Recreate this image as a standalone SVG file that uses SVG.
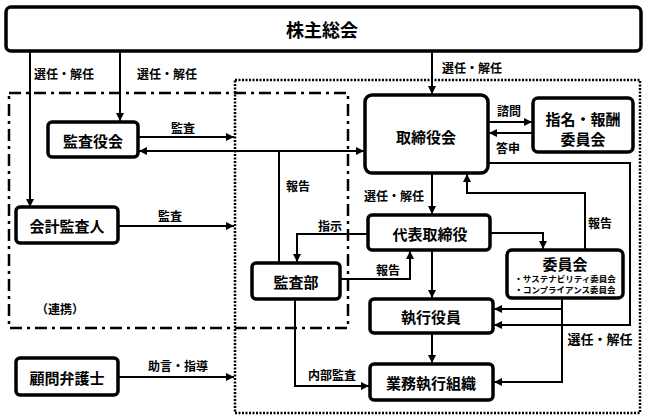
<svg xmlns="http://www.w3.org/2000/svg" width="648" height="420" viewBox="0 0 648 420">
<style>
.box{fill:#fff;stroke:#000;stroke-width:3.5}
.ln{fill:none;stroke:#000;stroke-width:2}
.arr{fill:none;stroke:#000;stroke-width:2;marker-end:url(#ah)}
.t{font-family:"Noto Sans CJK JP","Noto Sans CJK SC",sans-serif;font-weight:bold;text-anchor:middle;dominant-baseline:central;fill:#000}
.n{font-size:15px}
.l{font-size:12px}
.s{font-size:8.5px}
</style>
<defs>
<marker id="ah" viewBox="0 0 10 10" refX="10" refY="5" markerWidth="4" markerHeight="4" orient="auto" markerUnits="strokeWidth">
<path d="M0,0 L10,5 L0,10 z" fill="#000"/>
</marker>
</defs>
<rect width="648" height="420" fill="#fff"/>
<g id="frames">
<rect x="9" y="93" width="339" height="235" fill="none" stroke="#000" stroke-width="2.5" stroke-dasharray="12 5 3 5"/>
<rect x="235" y="80" width="405" height="333" fill="none" stroke="#000" stroke-width="2.5" stroke-dasharray="2 1.5"/>
</g>
<g id="connectors">
<path class="arr" d="M30,51 V207"/>
<path class="arr" d="M120,51 V121"/>
<path class="arr" d="M432,51 V94"/>
<path class="arr" d="M138,137 H234"/>
<path class="arr" d="M279,151 H139"/>
<path class="arr" d="M279,151 H364"/>
<path class="ln" d="M279,263 V151"/>
<path class="arr" d="M118,226 H234"/>
<path class="arr" d="M118,377 H234"/>
<path class="arr" d="M488,122 H532"/>
<path class="arr" d="M533,133 H489"/>
<path class="arr" d="M432,173 V214"/>
<path class="arr" d="M585,250 V193 H467 V174"/>
<path class="arr" d="M490,233 H543 V249"/>
<path class="arr" d="M368,234 H297 V262"/>
<path class="arr" d="M340,279 H410 V251"/>
<path class="arr" d="M432,250 V298"/>
<path class="arr" d="M432,333 V363"/>
<path class="arr" d="M295,299 V386 H369"/>
<path class="arr" d="M488,163 H630 V325 H494"/>
<path class="arr" d="M562,298 V382 H494"/>
<path class="arr" d="M562,309 H494"/>
</g>
<g id="labels">
<text class="t l" x="64" y="73">選任・解任</text>
<text class="t l" x="167" y="73">選任・解任</text>
<text class="t l" x="472" y="67">選任・解任</text>
<text class="t l" x="183" y="127">監査</text>
<text class="t l" x="170" y="215">監査</text>
<text class="t l" x="298" y="185">報告</text>
<text class="t l" x="330" y="225">指示</text>
<text class="t l" x="388" y="269">報告</text>
<text class="t l" x="332" y="374">内部監査</text>
<text class="t l" x="178" y="365">助言・指導</text>
<text class="t l" x="60" y="308">（連携）</text>
<text class="t l" x="509" y="110">諮問</text>
<text class="t l" x="508" y="147">答申</text>
<text class="t l" x="394" y="195">選任・解任</text>
<text class="t l" x="600" y="222">報告</text>
<text class="t" x="600" y="338" font-size="13">選任・解任</text>
</g>
<g id="n-sokai">
<rect class="box" x="6" y="7" width="635" height="44" rx="5"/>
<text class="t" x="322" y="29" font-size="18">株主総会</text>
</g>
<g id="n-kansayakukai">
<rect class="box" x="48" y="122" width="90" height="35" rx="4"/>
<text class="t n" x="93" y="140">監査役会</text>
</g>
<g id="n-kaikei">
<rect class="box" x="16" y="207" width="102" height="36" rx="4"/>
<text class="t n" x="67" y="225">会計監査人</text>
</g>
<g id="n-komon">
<rect class="box" x="16" y="358" width="102" height="37" rx="4"/>
<text class="t n" x="67" y="377">顧問弁護士</text>
</g>
<g id="n-torishimariyakukai">
<rect class="box" x="365" y="95" width="123" height="78" rx="7"/>
<text class="t n" x="426" y="136">取締役会</text>
</g>
<g id="n-shimei">
<rect class="box" x="533" y="98" width="100" height="54" rx="5"/>
<text class="t n" x="583" y="118">指名・報酬</text>
<text class="t n" x="583" y="138">委員会</text>
</g>
<g id="n-daihyo">
<rect class="box" x="368" y="215" width="122" height="35" rx="4"/>
<text class="t n" x="430" y="233">代表取締役</text>
</g>
<g id="n-kansabu">
<rect class="box" x="252" y="263" width="88" height="36" rx="4"/>
<text class="t n" x="296" y="281">監査部</text>
</g>
<g id="n-iinkai">
<rect class="box" x="507" y="250" width="116" height="48" rx="5"/>
<text class="t" x="565" y="263" font-size="15">委員会</text>
<text class="t s" x="565" y="278">・サステナビリティ委員会</text>
<text class="t s" x="565" y="289">・コンプライアンス委員会</text>
</g>
<g id="n-shikko">
<rect class="box" x="370" y="299" width="123" height="34" rx="4"/>
<text class="t n" x="431" y="316">執行役員</text>
</g>
<g id="n-gyomu">
<rect class="box" x="370" y="364" width="123" height="36" rx="4"/>
<text class="t n" x="431" y="382">業務執行組織</text>
</g>
</svg>
